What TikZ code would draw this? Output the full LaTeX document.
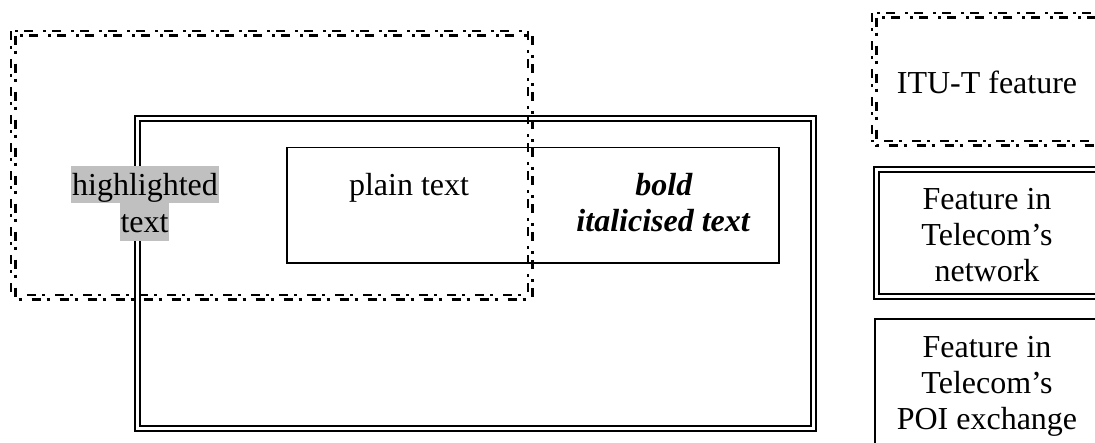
\documentclass[tikz,border=0pt]{standalone}
\usepackage{fontspec}
\setmainfont{Liberation Serif}
\definecolor{hlgray}{RGB}{192,192,192}
\begin{document}
\begin{tikzpicture}[x=1pt,y=-1pt,
  ddthick/.style={line width=3.4pt, dash pattern=on 9pt off 6pt on 3pt off 10pt},
  ddthin/.style={line width=1.4pt, dash pattern=on 9pt off 6pt on 3pt off 10pt, shift={(-4.5,-4.5)}},
  dblbox/.style={line width=2pt, double, double distance=3pt},
  plainbox/.style={line width=1.8pt},
  txt/.style={font=\fontsize{32}{36}\selectfont, inner sep=0pt, anchor=base},
  hl/.style={txt, fill=hlgray, inner xsep=1pt, inner ysep=0pt}
]
\useasboundingbox (0,0) rectangle (1095,442);
% big double box
\draw[dblbox] (137.5,118.5) rectangle (813.5,428.5);
% inner plain box
\draw[plainbox] (287,147.5) rectangle (779,263);
% highlighted text
\node[hl, text height=29pt, text depth=8pt] (hl1) at (145,195) {highlighted};
\node[hl, text height=29pt, text depth=9pt] (hl2) at (144.5,232) {text};
\node[txt] (plain) at (409,195) {plain text};
\node[txt] (bold) at (664,195) {\textbf{\textit{bold}}};
\node[txt] (boldb) at (663.5,231) {\textbf{\textit{italicised text}}};
% big dash-dot box
\draw[ddthin] (15.5,35.5) rectangle (532.5,299.5);
\draw[ddthick] (15.5,35.5) rectangle (532.5,299.5);
% right legend boxes
\draw[ddthin] (876.5,17.5) rectangle (1110,145.5);
\draw[ddthick] (876.5,17.5) rectangle (1110,145.5);
\node[txt] (itu) at (987,93) {ITU-T feature};
\draw[dblbox] (876.5,169.5) rectangle (1110,296.5);
\node[txt] (net) at (987,209) {\begin{tabular}[t]{@{}c@{}}Feature in\\Telecom’s\\network\end{tabular}};
\draw[plainbox] (874.8,318.8) rectangle (1110,470);
\node[txt] (poi) at (987,357) {\begin{tabular}[t]{@{}c@{}}Feature in\\Telecom’s\\POI exchange\end{tabular}};
\end{tikzpicture}
\end{document}
